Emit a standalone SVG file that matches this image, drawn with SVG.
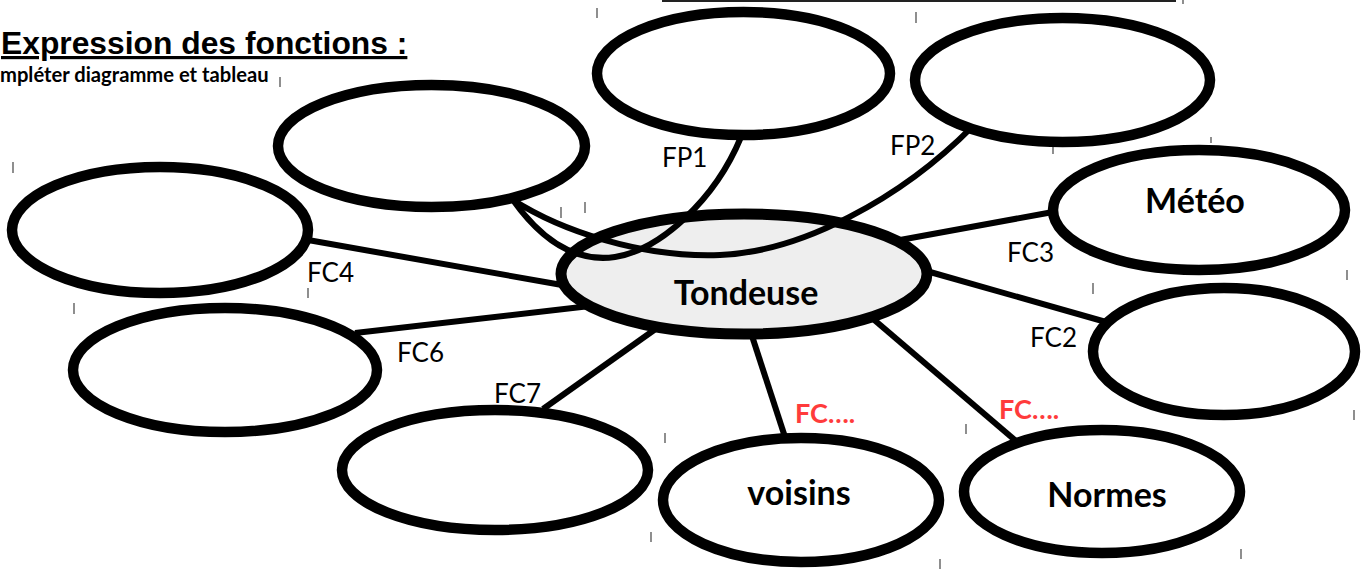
<svg xmlns="http://www.w3.org/2000/svg" width="1366" height="570" viewBox="0 0 1366 570">
<style>
.node{fill:#ffffff;stroke:#000000;stroke-width:10.5}
.main{fill:#eeeeee;stroke:#000000;stroke-width:11}
.conn{fill:none;stroke:#000000;stroke-width:6}
.lbl{font-family:Lato,"Open Sans",sans-serif;font-size:26px;fill:#000000}
.red{font-family:Lato,"Open Sans",sans-serif;font-size:27px;font-weight:bold;fill:#ff3b3b}
.name{font-family:Lato,"Open Sans",sans-serif;font-size:34px;font-weight:bold;fill:#000000;text-anchor:middle}
.tick{stroke:#444444;stroke-width:1.2}
</style>
<rect width="1366" height="570" fill="#ffffff"/>
<g id="header">
<text x="1" y="54" font-family="'Liberation Sans',Arial,sans-serif" font-size="31.8" font-weight="bold" text-decoration="underline">Expression des fonctions :</text>
<text x="0" y="82" font-family="Lato,'Open Sans',sans-serif" font-size="20.2" font-weight="bold">mpléter diagramme et tableau</text>
<line x1="662" y1="1" x2="1176" y2="1" stroke="#222222" stroke-width="2"/>
<line x1="1183" y1="0" x2="1183" y2="4" class="tick"/>
</g>
<g id="ticks">
<line class="tick" x1="597" y1="8" x2="597" y2="18"/>
<line class="tick" x1="916" y1="12" x2="916" y2="23"/>
<line class="tick" x1="280" y1="77" x2="280" y2="87"/>
<line class="tick" x1="561" y1="207" x2="561" y2="218"/>
<line class="tick" x1="585" y1="202" x2="585" y2="213"/>
<line class="tick" x1="13" y1="162" x2="13" y2="173"/>
<line class="tick" x1="74" y1="303" x2="74" y2="314"/>
<line class="tick" x1="308" y1="288" x2="308" y2="298"/>
<line class="tick" x1="1211" y1="137" x2="1211" y2="143"/>
<line class="tick" x1="1053" y1="147" x2="1053" y2="154"/>
<line class="tick" x1="1093" y1="283" x2="1093" y2="294"/>
<line class="tick" x1="1347" y1="270" x2="1347" y2="280"/>
<line class="tick" x1="1354" y1="410" x2="1354" y2="420"/>
<line class="tick" x1="665" y1="433" x2="665" y2="443"/>
<line class="tick" x1="966" y1="424" x2="966" y2="434"/>
<line class="tick" x1="651" y1="532" x2="651" y2="542"/>
<line class="tick" x1="940" y1="559" x2="940" y2="569"/>
<line class="tick" x1="1241" y1="549" x2="1241" y2="559"/>
</g>
<g id="node-fp1-top"><ellipse class="node" cx="743.5" cy="73.5" rx="146.5" ry="61.5"/></g>
<g id="node-fp2-top"><ellipse class="node" cx="1062.5" cy="80" rx="147.5" ry="62"/></g>
<g id="node-topleft"><ellipse class="node" cx="431.5" cy="146" rx="153.5" ry="61"/></g>
<g id="node-fc4"><ellipse class="node" cx="160" cy="230" rx="148" ry="63"/></g>
<g id="node-fc6"><ellipse class="node" cx="225" cy="370" rx="152" ry="62"/></g>
<g id="node-fc7"><ellipse class="node" cx="495" cy="470" rx="153" ry="60"/></g>
<g id="node-meteo"><ellipse class="node" cx="1199" cy="210" rx="146" ry="60"/><text class="name" x="1195" y="213">Météo</text></g>
<g id="node-fc2"><ellipse class="node" cx="1224" cy="351.5" rx="131" ry="63.5"/></g>
<g id="node-voisins"><ellipse class="node" cx="801" cy="500" rx="138" ry="62"/><text class="name" x="799" y="505">voisins</text></g>
<g id="node-normes"><ellipse class="node" cx="1102" cy="491.5" rx="138" ry="61.5"/><text class="name" x="1107" y="507">Normes</text></g>
<g id="node-tondeuse"><ellipse class="main" cx="744" cy="274" rx="183" ry="60"/><text class="name" x="746" y="305">Tondeuse</text></g>
<g id="connectors">
<line class="conn" x1="900" y1="240" x2="1053" y2="212"/>
<line class="conn" x1="930" y1="272" x2="1106" y2="322"/>
<line class="conn" x1="308" y1="240" x2="562" y2="285"/>
<line class="conn" x1="355" y1="333" x2="590" y2="306"/>
<line class="conn" x1="543" y1="409" x2="657" y2="328"/>
<line class="conn" x1="752" y1="336" x2="785" y2="437"/>
<line class="conn" x1="872" y1="318" x2="1016" y2="441"/>
<path class="conn" d="M513,200 C545,245 580,262 615,257 C660,250 715,200 741,137"/>
<path class="conn" d="M513,200 C560,230 640,258 720,255 C800,252 900,200 973,126"/>
</g>
<g id="labels">
<text class="lbl" x="662" y="167">FP1</text>
<text class="lbl" x="890" y="155">FP2</text>
<text class="lbl" x="1007" y="262">FC3</text>
<text class="lbl" x="1030" y="347">FC2</text>
<text class="lbl" x="307" y="282">FC4</text>
<text class="lbl" x="397" y="362">FC6</text>
<text class="lbl" x="494" y="403">FC7</text>
<text class="red" x="795" y="423">FC….</text>
<text class="red" x="999" y="419">FC….</text>
</g>
</svg>
